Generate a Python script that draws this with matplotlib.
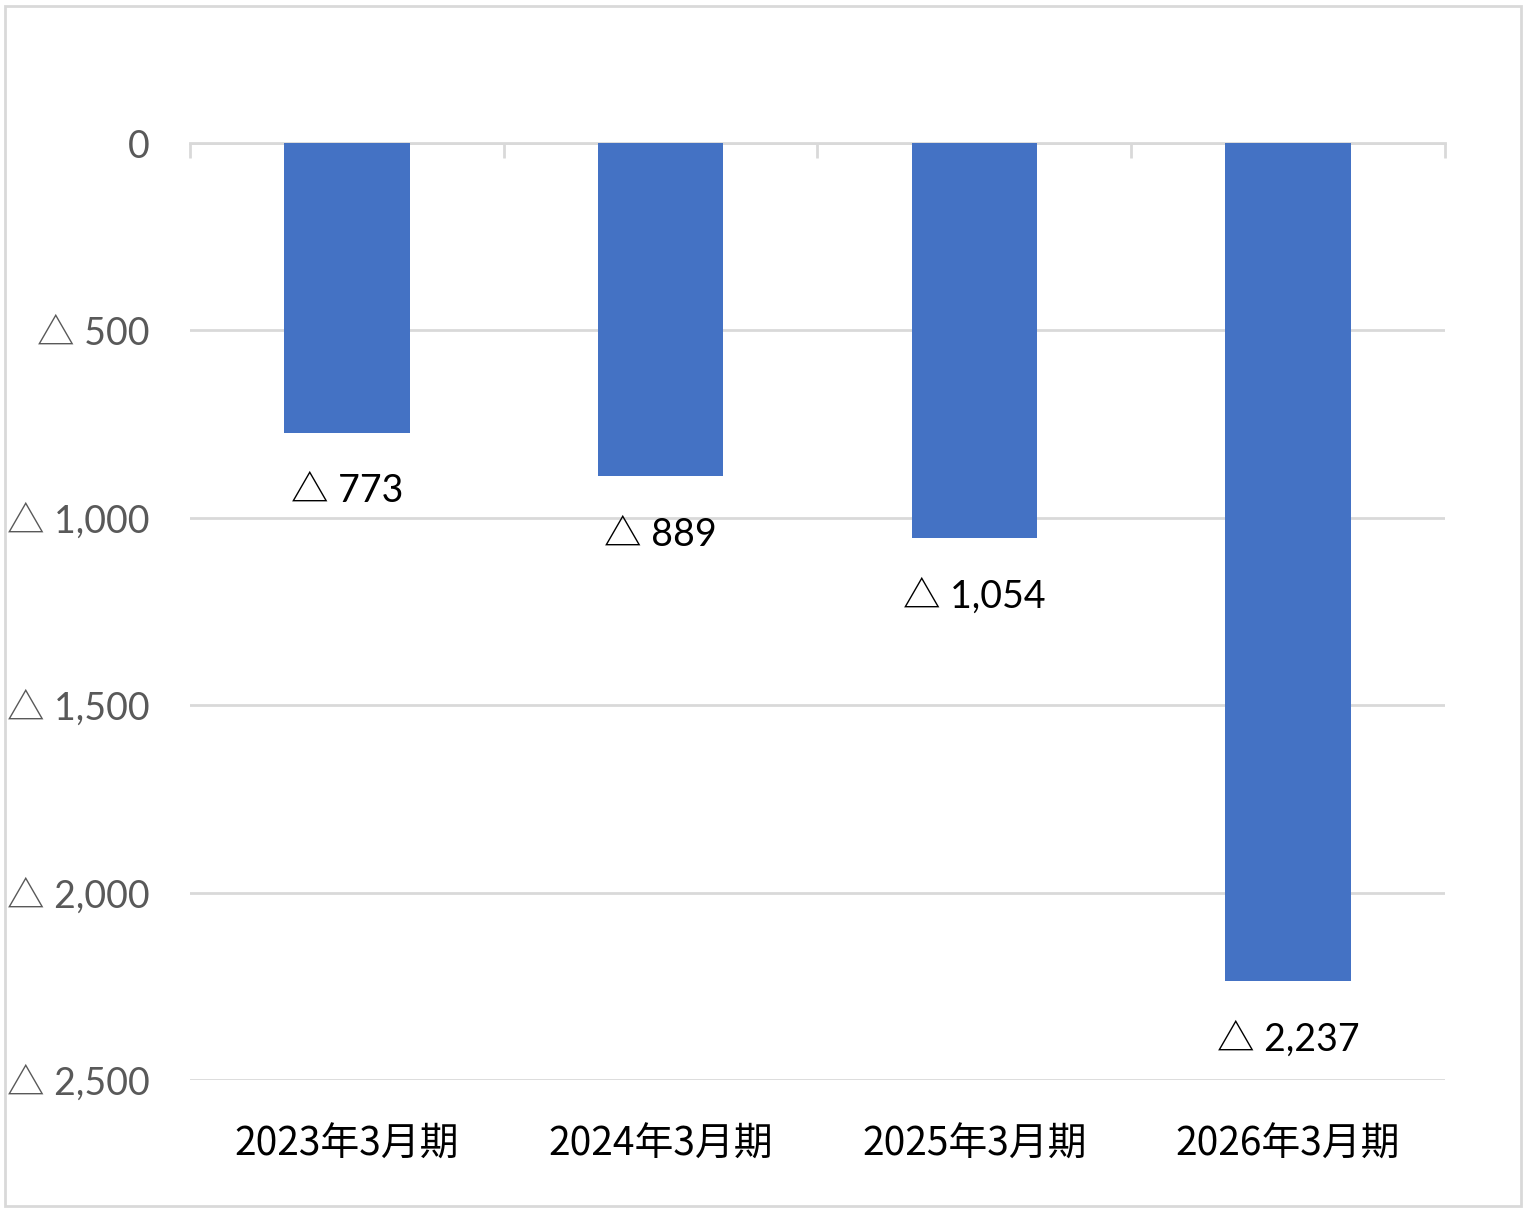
import matplotlib.pyplot as plt
from matplotlib.patches import Rectangle
from matplotlib.ticker import FuncFormatter
import numpy as np

plt.rcParams['font.family'] = ['Lato', 'Noto Sans CJK JP', 'DejaVu Sans']

# data (millions of yen, negative = loss)
periods = ['2023年3月期', '2024年3月期', '2025年3月期', '2026年3月期']
values = [-773, -889, -1054, -2237]
yticks = [0, -500, -1000, -1500, -2000, -2500]

bar_color = '#4472C4'
grid_color = '#D9D9D9'


def tri_fmt(v, pos=None):
    if v == 0:
        return '0'
    return '△ {:,.0f}'.format(abs(v))


fig = plt.figure(figsize=(15.3, 12.1), dpi=100)
ax = fig.add_axes([0.1242, 0.1074, 0.8202, 0.7744])

x = np.arange(len(periods))
ax.bar(x, values, width=0.4, color=bar_color, zorder=3)

ax.set_xlim(-0.5, len(periods) - 0.5)
ax.set_ylim(-2500, 0)
ax.set_yticks(yticks)
ax.yaxis.set_major_formatter(FuncFormatter(tri_fmt))
ax.grid(axis='y', color=grid_color, linewidth=2, zorder=0)

ax.set_xticks(x)
ax.set_xticklabels(periods, fontsize=28, family=['Noto Sans CJK JP', 'DejaVu Sans'])
ax.set_xticks(np.arange(-0.5, len(periods)), minor=True)
ax.tick_params(axis='x', which='major', length=0, pad=32)
ax.tick_params(axis='x', which='minor', top=True, bottom=False, direction='in',
               length=11, width=2, color=grid_color)
ax.tick_params(axis='y', length=0, pad=29, labelsize=27, labelcolor='#595959')

for s in ['left', 'right', 'bottom']:
    ax.spines[s].set_visible(False)
ax.spines['top'].set_color(grid_color)
ax.spines['top'].set_linewidth(2)

# data labels under each bar
for xi, v in zip(x, values):
    ax.annotate(tri_fmt(v), (xi, v), xytext=(0, -42), textcoords='offset points',
                ha='center', va='center', fontsize=27, color='black')

# light frame around the whole chart
fig.patches.append(Rectangle((0.003, 0.003), 0.991, 0.992, transform=fig.transFigure,
                             fill=False, edgecolor=grid_color, linewidth=2))

fig.savefig('out.png', dpi=100)
